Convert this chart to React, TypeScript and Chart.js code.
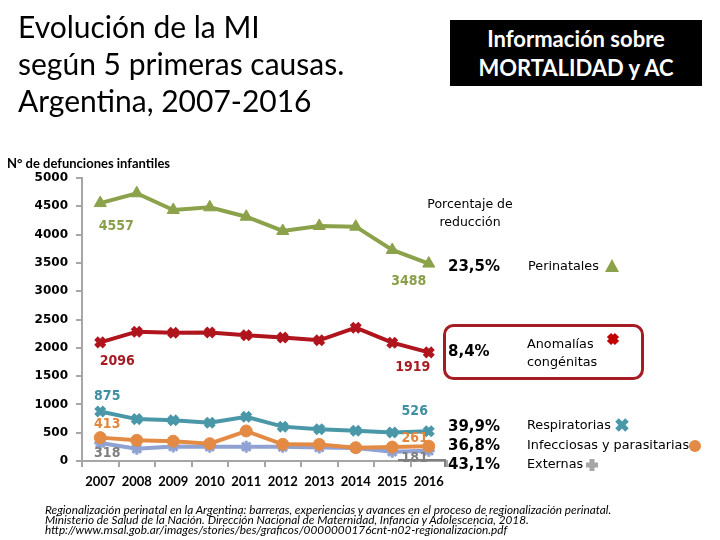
import React, { useEffect, useRef } from "react";
import { Chart, registerables } from "chart.js";

Chart.register(...registerables);

const years = ["2007", "2008", "2009", "2010", "2011", "2012", "2013", "2014", "2015", "2016"];
const perinatales = [4557, 4730, 4435, 4482, 4316, 4064, 4152, 4140, 3728, 3488];
const anomalias = [2096, 2285, 2267, 2270, 2220, 2180, 2132, 2355, 2090, 1919];
const respiratorias = [875, 740, 718, 677, 780, 607, 560, 536, 505, 526];
const infecciosas = [413, 365, 350, 306, 530, 294, 292, 236, 246, 261];
const externas = [318, 218, 256, 253, 253, 250, 238, 230, 165, 181];

const seriesNames = ["Perinatales", "Anomalías congénitas", "Respiratorias", "Infecciosas y parasitarias", "Externas"];
const reductions = ["23,5%", "8,4%", "39,9%", "36,8%", "43,1%"];

const GREEN = "#8BA24B";
const RED = "#B0141C";
const TEAL = "#4A97A8";
const ORANGE = "#E38B45";
const LAV = "#8FA2D3";
const AXIS = "#A6A6A6";

// label offsets for first/last data labels (text style only)
const labelCfg = [
  { color: "#8A9F4A", first: [16, 23], last: [-20, 18] },
  { color: "#A51C22", first: [17, 19], last: [-16, 15] },
  { color: "#3E8FA1", first: [7, -15], last: [-14, -20] },
  { color: "#E0873E", first: [7, -13], last: [-14, -8] },
  { color: "#7F7F7F", first: [7, 10], last: [-14, 8] },
];

function drawMarker(ctx: CanvasRenderingContext2D, style: string, x: number, y: number, r: number, color: string, lw: number) {
  ctx.save();
  ctx.fillStyle = color;
  ctx.strokeStyle = color;
  ctx.lineWidth = lw;
  ctx.lineCap = "butt";
  ctx.beginPath();
  if (style === "triangle") {
    ctx.moveTo(x, y - r);
    ctx.lineTo(x + r, y + r * 0.85);
    ctx.lineTo(x - r, y + r * 0.85);
    ctx.closePath();
    ctx.fill();
  } else if (style === "circle") {
    ctx.arc(x, y, r, 0, Math.PI * 2);
    ctx.fill();
  } else if (style === "crossRot") {
    ctx.moveTo(x - r, y - r);
    ctx.lineTo(x + r, y + r);
    ctx.moveTo(x + r, y - r);
    ctx.lineTo(x - r, y + r);
    ctx.stroke();
  } else if (style === "cross") {
    ctx.moveTo(x - r, y);
    ctx.lineTo(x + r, y);
    ctx.moveTo(x, y - r);
    ctx.lineTo(x, y + r);
    ctx.stroke();
  }
  ctx.restore();
}

const dataLabelPlugin = {
  id: "dataLabels",
  afterDatasetsDraw(chart: any) {
    const ctx = chart.ctx;
    ctx.save();
    ctx.font = 'bold 14px "DejaVu Sans Condensed", "DejaVu Sans", sans-serif';
    ctx.textAlign = "center";
    ctx.textBaseline = "middle";
    chart.data.datasets.forEach((ds: any, i: number) => {
      const meta = chart.getDatasetMeta(i);
      const cfg = labelCfg[i];
      const n = ds.data.length;
      const p0 = meta.data[0];
      const pn = meta.data[n - 1];
      ctx.fillStyle = cfg.color;
      ctx.fillText(String(ds.data[0]), p0.x + cfg.first[0], p0.y + cfg.first[1]);
      ctx.fillText(String(ds.data[n - 1]), pn.x + cfg.last[0], pn.y + cfg.last[1]);
    });
    ctx.restore();
  },
};

const annotationPlugin = {
  id: "annotations",
  afterDraw(chart: any) {
    const ctx = chart.ctx;
    ctx.save();
    ctx.textBaseline = "middle";
    ctx.fillStyle = "#000";
    ctx.font = '12.5px "DejaVu Sans", sans-serif';
    ctx.textAlign = "center";
    ctx.fillText("Porcentaje de", 470, 205);
    ctx.fillText("reducción", 470, 223);

    // gray connector
    ctx.strokeStyle = "#808080";
    ctx.lineWidth = 2;
    ctx.beginPath();
    ctx.moveTo(398, 460);
    ctx.lineTo(445, 460);
    ctx.lineTo(445, 467);
    ctx.stroke();

    // rounded rect
    ctx.strokeStyle = "#A51C22";
    ctx.lineWidth = 3;
    ctx.beginPath();
    (ctx as any).roundRect(444.5, 325.5, 198, 53, 9);
    ctx.stroke();

    ctx.textAlign = "left";
    ctx.font = 'bold 15px "DejaVu Sans", sans-serif';
    ctx.fillStyle = "#000";
    ctx.fillText(reductions[0], 448, 267);
    ctx.fillText(reductions[1], 448, 352);
    ctx.fillText(reductions[2], 448, 427);
    ctx.fillText(reductions[3], 448, 446);
    ctx.fillText(reductions[4], 448, 465);

    ctx.font = '12.8px "DejaVu Sans", sans-serif';
    ctx.fillText(seriesNames[0], 528, 267);
    ctx.fillText("Anomalías", 527, 345);
    ctx.fillText("congénitas", 527, 363);
    ctx.fillText(seriesNames[2], 527, 426);
    ctx.fillText(seriesNames[3], 527, 446);
    ctx.fillText(seriesNames[4], 527, 465);

    drawMarker(ctx, "triangle", 612, 266, 7, GREEN, 1);
    drawMarker(ctx, "crossRot", 613, 339, 4, "#C00000", 6);
    drawMarker(ctx, "crossRot", 622, 425, 5, TEAL, 5);
    drawMarker(ctx, "circle", 695, 446, 6, ORANGE, 1);
    drawMarker(ctx, "cross", 592, 465, 6, AXIS, 5);
    ctx.restore();
  },
};

export default function App() {
  const ref = useRef<HTMLCanvasElement | null>(null);
  useEffect(() => {
    if (!ref.current) return;
    const mk = (label: string, data: number[], color: string, style: string, radius: number, bw: number) => ({
      label,
      data,
      borderColor: color,
      backgroundColor: color,
      borderWidth: 4,
      pointStyle: style,
      pointRadius: radius,
      pointBorderWidth: bw,
      pointBackgroundColor: color,
      pointBorderColor: color,
      tension: 0,
    });
    const chart = new Chart(ref.current, {
      type: "line",
      data: {
        labels: years,
        datasets: [
          mk(seriesNames[0], perinatales, GREEN, "triangle", 7, 1),
          mk(seriesNames[1], anomalias, RED, "crossRot", 6, 5),
          mk(seriesNames[2], respiratorias, TEAL, "crossRot", 6, 5),
          mk(seriesNames[3], infecciosas, ORANGE, "circle", 6, 1),
          mk(seriesNames[4], externas, LAV, "star", 6, 3),
        ],
      },
      options: {
        animation: false,
        responsive: false,
        maintainAspectRatio: false,
        layout: { padding: { top: 178, left: 0, right: 273, bottom: 49 } },
        plugins: { legend: { display: false }, tooltip: { enabled: false } },
        scales: {
          x: {
            offset: true,
            grid: { offset: true, drawOnChartArea: false, drawTicks: true, tickLength: 6, color: AXIS, lineWidth: 2 },
            border: { color: AXIS, width: 2 },
            ticks: { font: { family: "Lato", weight: "bold", size: 13 }, color: "#000", padding: 7, maxRotation: 0, autoSkip: false },
            afterFit: (s: any) => { s.height = 30; },
          },
          y: {
            min: 0,
            max: 5000,
            ticks: {
              stepSize: 500,
              font: { family: "DejaVu Sans", weight: "bold", size: 12 },
              color: "#000",
              padding: 8,
              callback: (v: any) => String(v),
            },
            grid: { drawOnChartArea: false, drawTicks: true, tickLength: 6, color: AXIS, lineWidth: 2 },
            border: { color: AXIS, width: 2 },
            afterFit: (s: any) => { s.width = 82; },
          },
        },
      } as any,
      plugins: [dataLabelPlugin, annotationPlugin],
    });
    return () => chart.destroy();
  }, []);

  return (
    <div style={{ position: "fixed", left: 0, top: 0, width: 720, height: 540, background: "#fff", overflow: "hidden" }}>
      <canvas ref={ref} width={720} height={540} style={{ position: "absolute", left: 0, top: 0, width: 720, height: 540 }} />
      <div style={{ position: "absolute", left: 18, top: 8, fontFamily: "Lato, sans-serif", fontSize: 30, lineHeight: "37px", color: "#000", whiteSpace: "nowrap" }}>
        Evolución de la MI<br />según 5 primeras causas.<br />Argentina, 2007-2016
      </div>
      <div style={{ position: "absolute", left: 450, top: 20, width: 252, height: 66, background: "#000", color: "#fff", fontFamily: "Lato, sans-serif", fontWeight: "bold", fontSize: 22, lineHeight: "29px", display: "flex", alignItems: "center", justifyContent: "center", textAlign: "center" }}>
        <div>Información sobre<br />MORTALIDAD y AC</div>
      </div>
      <div style={{ position: "absolute", left: 7, top: 155, fontFamily: "Lato, sans-serif", fontWeight: "bold", fontSize: 13, lineHeight: "16px", color: "#000", whiteSpace: "nowrap" }}>
        N° de defunciones infantiles
      </div>
      <div style={{ position: "absolute", left: 45, top: 505, fontFamily: "Lato, sans-serif", fontStyle: "italic", fontSize: 11.8, lineHeight: "10px", color: "#000", whiteSpace: "nowrap" }}>
        Regionalización perinatal en la Argentina: barreras, experiencias y avances en el proceso de regionalización perinatal.<br />
        Ministerio de Salud de la Nación. Dirección Nacional de Maternidad, Infancia y Adolescencia, 2018.<br />
        http://www.msal.gob.ar/images/stories/bes/graficos/0000000176cnt-n02-regionalizacion.pdf
      </div>
    </div>
  );
}
